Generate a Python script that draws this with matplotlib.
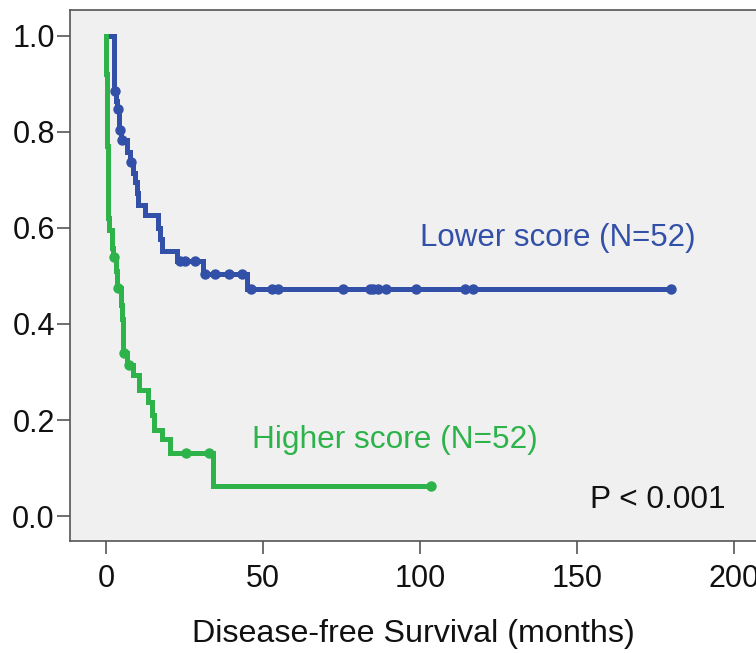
import matplotlib.pyplot as plt
import numpy as np

plt.rcParams['font.family'] = ['Liberation Sans', 'DejaVu Sans']

# Lower score group: step times (months) and survival after each step
low_t = [2.6, 3.2, 3.5, 4.1, 4.8, 6.7, 7.6, 8.6, 9.2, 9.7, 10.2, 12.4,
         16.6, 17.2, 17.8, 22.6, 30.9, 44.9]
low_s = [0.885, 0.865, 0.847, 0.805, 0.784, 0.758, 0.737, 0.714, 0.695, 0.672,
         0.647, 0.626, 0.600, 0.578, 0.553, 0.531, 0.504, 0.473]
low_cens = [2.7, 3.8, 4.5, 5.1, 8.0, 23.6, 25.2, 28.3, 31.5, 34.7, 39.2, 43.3,
            46.0, 52.9, 54.8, 75.5, 84.1, 85.0, 86.6, 89.2, 98.7, 114.3, 116.9, 180.0]

# Higher score group
high_t = [0.0, 0.15, 0.3, 0.45, 0.6, 1.0, 1.8, 2.1, 3.2, 3.5, 4.7, 5.0, 5.3,
          5.4, 6.8, 8.7, 10.6, 13.5, 14.5, 15.1, 17.7, 20.4, 34.0]
high_s = [0.92, 0.85, 0.77, 0.70, 0.62, 0.595, 0.559, 0.539, 0.51, 0.475, 0.44,
          0.41, 0.378, 0.339, 0.315, 0.294, 0.263, 0.237, 0.21, 0.18, 0.16, 0.132, 0.063]
high_cens = [2.4, 3.9, 5.6, 7.2, 25.5, 32.8, 103.5]

BLUE = '#3350a8'
GREEN = '#2db34a'
FS = 22.8


def step_curve(times, surv, cens):
    # curve starts at 1.0 and runs to the last censored point
    t = np.concatenate([[0.0], times, [max(cens)]])
    s = np.concatenate([[1.0], surv, [surv[-1]]])
    return t, s


def level_at(times, surv, x):
    idx = np.searchsorted(times, x, side='right')
    full = np.concatenate([[1.0], surv])
    return full[idx]


fig = plt.figure(figsize=(7.56, 6.53), dpi=100)
ax = fig.add_axes([0.0926, 0.1715, 0.9074, 0.8132])
ax.set_facecolor('#f0f0f0')

for times, surv, cens, col in [(low_t, low_s, low_cens, BLUE),
                               (high_t, high_s, high_cens, GREEN)]:
    t, s = step_curve(times, surv, cens)
    ax.step(t, s, where='post', color=col, lw=3.6, solid_joinstyle='miter')
    cy = level_at(np.array(times), np.array(surv), np.array(cens))
    ax.plot(cens, cy, 'o', color=col, ms=7.5, mew=0)

ax.text(100, 0.58, 'Lower score (N=52)', color=BLUE, fontsize=22.5, va='center')
ax.text(46.5, 0.158, 'Higher score (N=52)', color=GREEN, fontsize=FS, va='center')
ax.text(154, 0.034, 'P < 0.001', color='#111111', fontsize=FS, va='center')

ax.set_xlim(-11.5, 207)
ax.set_ylim(-0.052, 1.054)
ax.set_xticks([0, 50, 100, 150, 200])
ax.set_yticks([0.0, 0.2, 0.4, 0.6, 0.8, 1.0])
ax.set_yticklabels(['0.0', '0.2', '0.4', '0.6', '0.8', '1.0'])
ax.tick_params(direction='out', length=9.4, width=1.2, color='#555555',
               labelsize=22, labelcolor='#111111')
ax.tick_params(axis='y', pad=1.5)
ax.tick_params(axis='x', pad=7.5)
for side in ['left', 'bottom', 'top']:
    ax.spines[side].set_color('#555555')
    ax.spines[side].set_linewidth(1.2)
ax.spines['right'].set_visible(False)

ax.set_xlabel('Disease-free Survival (months)', fontsize=23.2, color='#111111', labelpad=18)

fig.savefig('out.png', dpi=100)
